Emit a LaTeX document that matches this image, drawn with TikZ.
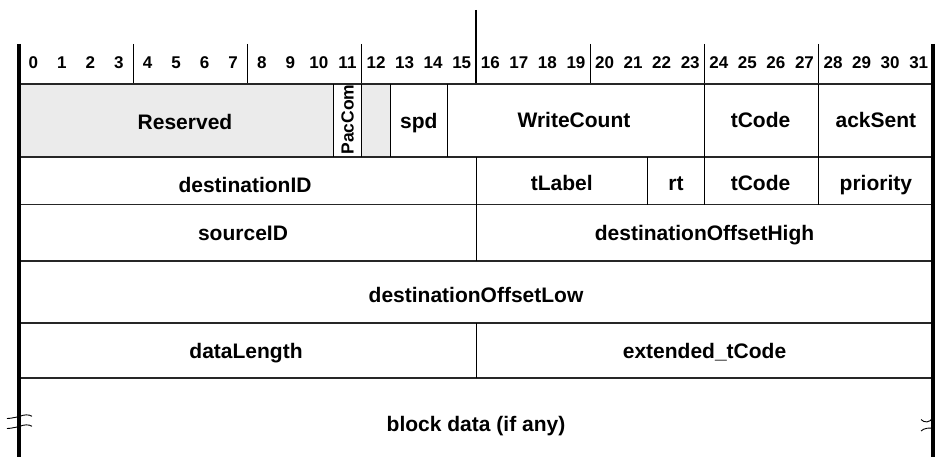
\documentclass[tikz,border=0pt]{standalone}
\usepackage{fontspec}
\setmainfont{Liberation Sans}
\def\bw{28.5625}
\tikzset{
  lbl/.style={font=\fontsize{21}{25}\selectfont\bfseries, text height=15pt, text depth=0pt, inner sep=0pt},
  num/.style={font=\fontsize{17}{20}\selectfont\bfseries, text height=12.2pt, text depth=0pt, inner sep=0pt},
  vlbl/.style={font=\fontsize{17.5}{20}\selectfont\bfseries, text height=12.5pt, text depth=0pt, inner sep=0pt, rotate=90},
  frameline/.style={line width=3.2pt},
  cellline/.style={line width=1pt},
  rowline/.style={line width=1.3pt, black!85},
  breakmark/.style={line width=0.9pt},
  grayfill/.style={fill=black!8},
}
\begin{document}
\begin{tikzpicture}[x=1pt,y=-1pt]
\useasboundingbox (0,0) rectangle (936,457);
% gray reserved areas
\fill[grayfill] (19,84) rectangle ({19+11*\bw},157);
\fill[grayfill] ({19+12*\bw},84) rectangle ({19+13*\bw},157);
% header numbers
\foreach \i in {0,...,31} {
  \node[num] (n\i) at ({19+(\i+0.5)*\bw},62) {\i};
}
% header ticks
\foreach \i in {4,8,12,20,24,28} {
  \draw[cellline] ({19+\i*\bw},44) -- ({19+\i*\bw},84);
}
\draw[line width=2.2pt] ({19+16*\bw},10) -- ({19+16*\bw},84);
% horizontal row lines
\foreach \yy in {84,157,204.5,261,323,378} {
  \draw[rowline] (19,\yy) -- (933,\yy);
}
% row 1 verticals
\foreach \i in {11,12,13,15,24,28} {
  \draw[cellline] ({19+\i*\bw},84) -- ({19+\i*\bw},157);
}
% row 2 verticals
\foreach \i in {16,22,24,28} {
  \draw[cellline] ({19+\i*\bw},157) -- ({19+\i*\bw},204.5);
}
% row 3 and row 5 verticals
\draw[cellline] ({19+16*\bw},204.5) -- ({19+16*\bw},261);
\draw[cellline] ({19+16*\bw},323) -- ({19+16*\bw},378);
% outer frame
\draw[frameline] (19,44) -- (19,457);
\draw[frameline] (933,44) -- (933,457);
% break marks
\draw[breakmark] (7,418.5) .. controls (12,418.5) and (15,417) .. (19,416.7) .. controls (24,414.3) and (29,414.3) .. (32,416.3);
\draw[breakmark] (7,428.5) .. controls (12,428.5) and (15,427) .. (19,426.7) .. controls (24,424.3) and (29,424.3) .. (32,426.3);
\draw[breakmark] (921,419.5) .. controls (924,423) and (930,423) .. (933,417.5);
\draw[breakmark] (921,431) .. controls (924,428) and (930,427.5) .. (933,428.5);
% row 1 labels
\node[lbl] (reserved) at (185,122) {Reserved};
\node[vlbl] (paccom) at ({19+11.5*\bw},119.5) {PacCom};
\node[lbl] (spd) at ({19+14*\bw},121) {spd};
\node[lbl] (writecount) at (574,120) {WriteCount};
\node[lbl] (tcode1) at (760.5,120) {tCode};
\node[lbl] (acksent) at ({19+30*\bw},120) {ackSent};
% row 2
\node[lbl] (destid) at (245,185) {destinationID};
\node[lbl] (tlabel) at ({19+19*\bw},183) {tLabel};
\node[lbl] (rt) at ({19+23*\bw},183) {rt};
\node[lbl] (tcode2) at (760.5,183) {tCode};
\node[lbl] (priority) at ({19+30*\bw},183) {priority};
% row 3
\node[lbl] (srcid) at (243,233) {sourceID};
\node[lbl] (dohigh) at ({19+24*\bw},233) {destinationOffsetHigh};
% row 4
\node[lbl] (dolow) at ({19+16*\bw},295) {destinationOffsetLow};
% row 5
\node[lbl] (datalen) at (246,351) {dataLength};
\node[lbl] (exttcode) at ({19+24*\bw},351) {extended\_tCode};
% row 6
\node[lbl] (blockdata) at ({19+16*\bw},424) {block data (if any)};
\end{tikzpicture}
\end{document}
